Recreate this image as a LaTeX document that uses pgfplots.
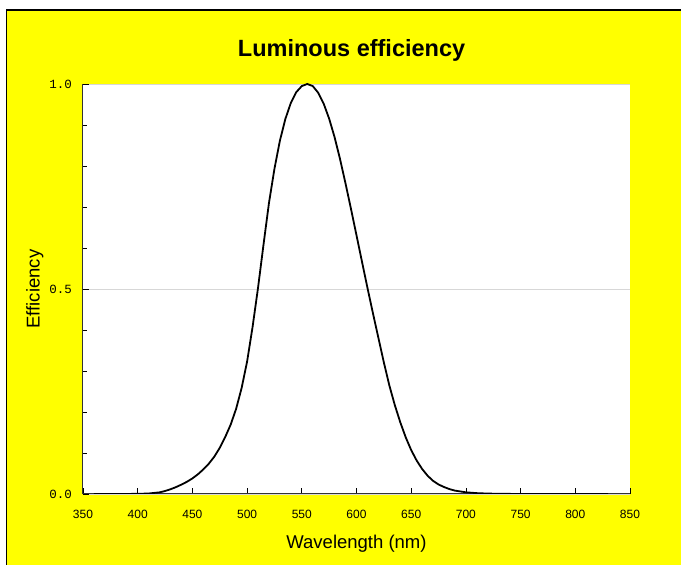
\documentclass[border=0pt]{standalone}
\usepackage{fontspec}
\setmainfont{Liberation Sans}
\setmonofont{Liberation Mono}
\usepackage{pgfplots}
\pgfplotsset{compat=1.18}

\definecolor{bgyellow}{RGB}{255,255,0}
\definecolor{gridgray}{RGB}{215,215,215}

\begin{document}
\begin{tikzpicture}
\useasboundingbox (0,0) rectangle (681pt,565pt);
\fill[white] (0,0) rectangle (681pt,565pt);
\fill[bgyellow] (6.5pt,0) rectangle (681pt,555pt);
\draw[black, line width=1.5pt] (6.5pt,0) -- (6.5pt,555pt) -- (681pt,555pt);
\begin{axis}[
    at={(83pt,71pt)}, anchor=south west,
    scale only axis,
    width=547pt, height=410pt,
    xmin=350, xmax=850,
    ymin=0, ymax=1,
    axis lines*=left,
    axis line style={line width=1pt, black!80},
    axis background/.style={fill=white},
    xtick={350,400,...,850},
    ytick={0,0.5,1},
    minor y tick num=4,
    tick align=inside,
    major tick length=6pt,
    minor tick length=4pt,
    tick style={line width=0.8pt, black},
    ymajorgrids,
    grid style={gridgray, line width=0.8pt},
    /pgf/number format/assume math mode=true,
    yticklabel={\pgfmathprintnumber[fixed, fixed zerofill, precision=1]{\tick}},
    yticklabel style={font=\fontsize{12.5}{12}\ttfamily, anchor=east, inner sep=0pt, xshift=-11pt},
    xticklabel style={font=\fontsize{12}{12}\selectfont, anchor=center, inner sep=0pt, yshift=-20pt},
    xlabel={Wavelength (nm)},
    ylabel={Efficiency},
    xlabel style={font=\fontsize{18.5}{20}\selectfont, at={(axis description cs:0.5,-0.121)}, anchor=center},
    ylabel style={font=\fontsize{18.5}{20}\selectfont, at={(axis description cs:-0.088,0.5)}, anchor=center},
    title={Luminous efficiency},
    title style={font=\fontsize{23.5}{26}\bfseries, at={(axis description cs:0.491,1.068)}, anchor=center},
]
\addplot[black, line width=1.8pt] coordinates {
(360,0.000004) (370,0.000012) (380,0.000039) (390,0.00012) (400,0.000396)
(410,0.00121) (420,0.004) (425,0.0073) (430,0.0116) (435,0.0168)
(440,0.023) (445,0.0298) (450,0.038) (455,0.048) (460,0.06)
(465,0.0739) (470,0.09098) (475,0.1126) (480,0.13902) (485,0.1693)
(490,0.20802) (495,0.2586) (500,0.323) (505,0.4073) (510,0.503)
(515,0.6082) (520,0.71) (525,0.7932) (530,0.862) (535,0.9149)
(540,0.954) (545,0.9803) (550,0.99495) (555,1.0) (560,0.995)
(565,0.9786) (570,0.952) (575,0.9154) (580,0.87) (585,0.8163)
(590,0.757) (595,0.6949) (600,0.631) (605,0.5668) (610,0.503)
(615,0.4412) (620,0.381) (625,0.321) (630,0.265) (635,0.217)
(640,0.175) (645,0.1382) (650,0.107) (655,0.0816) (660,0.061)
(665,0.04458) (670,0.032) (675,0.0232) (680,0.017) (685,0.01192)
(690,0.00821) (700,0.004102) (710,0.002091) (720,0.001047) (730,0.00052)
(740,0.000249) (750,0.00012) (760,0.00006) (770,0.00003) (780,0.000015)
(790,0.0000075) (800,0.0000037) (810,0.0000019) (820,0.0000009) (830,0.0000004)
};
\end{axis}
\end{tikzpicture}
\end{document}
